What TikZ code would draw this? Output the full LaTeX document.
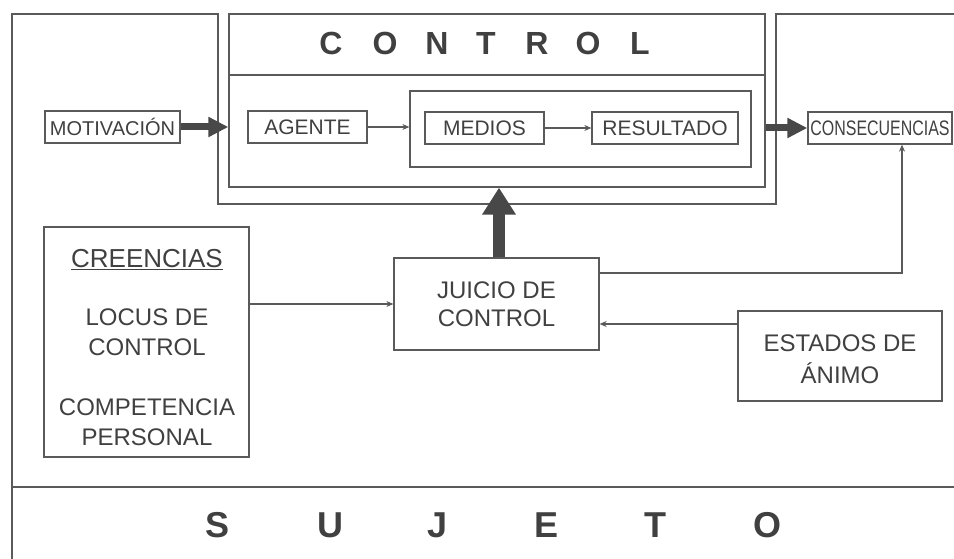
\documentclass[tikz,border=0pt]{standalone}
\usepackage{fontspec}
\setmainfont{Liberation Sans}
\usetikzlibrary{arrows.meta}
\definecolor{linecol}{HTML}{5A5A5A}
\definecolor{txtcol}{HTML}{404040}
\tikzset{
  box/.style={draw=linecol, line width=1.3pt, inner sep=0pt, text=txtcol},
  lbl/.style={text=txtcol, inner sep=0pt},
  fs21/.style={font=\fontsize{21}{25}\selectfont},
  fs24/.style={font=\fontsize{24}{28}\selectfont},
  title/.style={text=txtcol, inner sep=0pt, font=\fontsize{32}{36}\selectfont\bfseries},
  title2/.style={text=txtcol, inner sep=0pt, font=\fontsize{36}{40}\selectfont\bfseries},
  frame/.style={draw=linecol, line width=1.3pt},
  thin/.style={draw=linecol, line width=1.1pt, -{Stealth[length=7pt,width=6pt]}},
  fat/.style={draw=linecol!80!black, -{Triangle[length=20pt,width=19pt]}, line width=7pt}
}
\begin{document}
\begin{tikzpicture}[x=1pt,y=-1pt]
\useasboundingbox (0,0) rectangle (954,559);
% outer frame
\draw[frame] (954,14) -- (776,14) -- (776,204) -- (218,204) -- (218,14) -- (12,14) -- (12,559);
\draw[frame] (12,487) -- (954,487);
% control box
\node[box, minimum width=536pt, minimum height=173pt] (control) at (497,100.5) {};
\draw[frame] (control.north west |- 0,75) -- (control.north east |- 0,75);
\foreach \l/\x [count=\i] in {C/331,O/385,N/437,T/486,R/537,O/588,L/640}
  \node[title] (ct\i) at (\x,43.5) {\l};
\node[box, minimum width=341pt, minimum height=76pt] (inner) at (580.5,129) {};
% boxes
\node[box, fs21, minimum width=135pt, minimum height=32pt] (motiv) at (112.5,127) {\fontsize{20}{24}\selectfont MOTIVACIÓN};
\node[box, fs21, minimum width=119pt, minimum height=32pt] (agente) at (307.5,127) {AGENTE};
\node[box, fs21, minimum width=119pt, minimum height=32pt] (medios) at (484.5,128) {MEDIOS};
\node[box, fs21, minimum width=146pt, minimum height=32pt] (result) at (665,128) {RESULTADO};
\node[box, fs21, minimum width=144pt, minimum height=32pt] (conseq) at (880,128) {\scalebox{0.76}[1]{CONSECUENCIAS}};
\node[box, minimum width=205pt, minimum height=230pt] (creen) at (146.5,342) {};
\node[lbl, font=\fontsize{26}{30}\selectfont] (cr1) at (147,260) {\underline{CREENCIAS}};
\node[lbl, fs24] (cr2) at (147,317) {LOCUS DE};
\node[lbl, fs24] (cr3) at (147,347) {CONTROL};
\node[lbl, fs24] (cr4) at (147,407) {COMPETENCIA};
\node[lbl, fs24] (cr5) at (147,437) {PERSONAL};
\node[box, minimum width=205pt, minimum height=92pt] (juicio) at (496.5,304) {};
\node[lbl, fs24] (j1) at (496.5,290) {JUICIO DE};
\node[lbl, fs24] (j2) at (496.5,318) {CONTROL};
\node[box, minimum width=204pt, minimum height=90pt] (estados) at (840,356) {};
\node[lbl, fs24] (e1) at (840,343) {ESTADOS DE};
\node[lbl, fs24] (e2) at (840,373) {ÁNIMO};
% sujeto
\foreach \l/\x [count=\i] in {S/218,U/330,J/438,E/547,T/655,O/767}
  \node[title2] (sj\i) at (\x,525) {\l};
% connectors
\draw[fat] (motiv.east) -- (control.west |- motiv.east);
\draw[fat] (control.east |- conseq.west) -- (conseq.west);
\draw[draw=linecol!80!black, line width=12pt, -{Triangle[length=27pt,width=32pt]}] ([xshift=2.5pt]juicio.north) -- ([xshift=2.5pt]juicio.north |- control.south);
\draw[thin] (agente.east) -- (agente.east -| inner.west);
\draw[thin] (medios.east) -- (result.west);
\draw[thin] (creen.east |- juicio.west) -- (juicio.west);
\draw[thin] ([yshift=32pt]estados.west) coordinate (ea) -- (juicio.east |- ea);
\draw[thin] ([yshift=31pt]juicio.east) -| ([xshift=22pt]conseq.south);
\end{tikzpicture}
\end{document}
